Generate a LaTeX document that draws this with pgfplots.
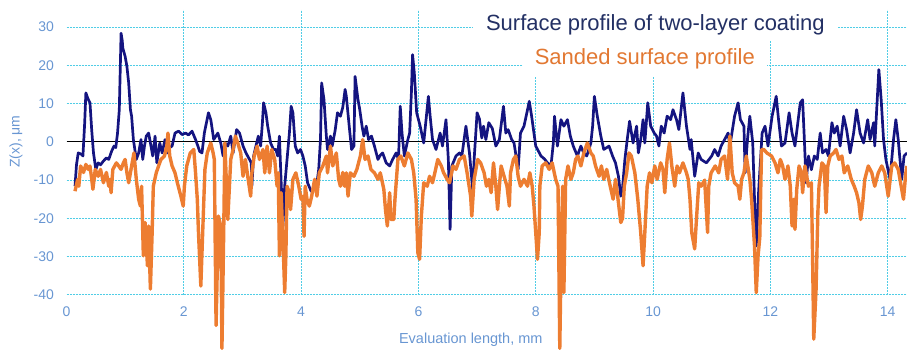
\documentclass[border=0pt]{standalone}
\usepackage{pgfplots}
\pgfplotsset{compat=1.18}
\usepackage{fontspec}
\setmainfont{Liberation Sans}
\definecolor{gridc}{RGB}{80,205,230}
\definecolor{tickc}{RGB}{104,150,210}
\definecolor{navyline}{RGB}{20,20,128}
\definecolor{orangeline}{RGB}{237,125,49}
\definecolor{navytext}{RGB}{35,48,100}
\definecolor{orangetext}{RGB}{226,120,50}
\begin{document}
\begin{tikzpicture}
\begin{axis}[
  scale only axis, width=840.5pt, height=285pt,
  xmin=0, xmax=14.33, ymin=-40, ymax=34.5,
  clip=false,
  axis line style={draw=none},
  major tick length=0pt,
  xtick={0,2,...,14}, ytick={-40,-30,...,30},
  xmajorgrids=false, ymajorgrids=true,
  major grid style={gridc, line width=1pt, dash pattern=on 2pt off 1pt},
  extra x ticks={2,4,...,14}, extra x tick labels={},
  extra x tick style={xmajorgrids=true},
  extra y ticks={0}, extra y tick labels={},
  extra y tick style={ymajorgrids=true, major grid style={black, line width=0.8pt, solid}},
  /pgf/number format/assume math mode=true,
  tick label style={font=\fontsize{14}{16}\selectfont, text=tickc},
  xticklabel style={yshift=-8pt},
  yticklabel style={xshift=-9pt},
  xlabel={Evaluation length, mm},
  xlabel style={at={(axis description cs:0.481,0)}, anchor=center, yshift=-45pt,
    font=\fontsize{14.5}{16}\selectfont, text=tickc},
  ylabel={Z(x), μm},
  ylabel style={at={(axis description cs:-0.0601,0.5375)}, anchor=center, rotate=0,
    font=\fontsize{14}{16}\selectfont, text=tickc},
]
\addplot[navyline, line width=2.7pt, line join=round] table {
0.145 -11.6
0.17 -6
0.20 -2.9
0.25 -3.2
0.28 -3.7
0.31 5
0.33 12.8
0.36 11.5
0.38 10.8
0.40 10.2
0.43 3
0.46 -2.9
0.50 -7.2
0.54 -5.5
0.58 -6
0.63 -5.0
0.68 -4.2
0.72 -4.6
0.77 -2.4
0.81 -1.1
0.84 -1.5
0.87 2.3
0.90 8.4
0.92 21.5
0.93 28.4
0.95 26.5
0.96 24.5
1.00 22.3
1.03 19.7
1.06 15.4
1.09 8.4
1.11 6.7
1.14 0.6
1.19 -4.6
1.23 -2.9
1.27 0.6
1.30 -4.6
1.33 -1
1.36 1.5
1.40 2.3
1.44 -1.1
1.47 -3.7
1.51 1.5
1.54 -5.5
1.59 -0.3
1.63 -2.9
1.68 0.6
1.72 -2.9
1.76 -1.5
1.80 -1.1
1.85 2.3
1.91 2.8
1.97 1.9
2.03 2.3
2.08 1.8
2.14 2.8
2.20 0.6
2.24 -1.1
2.27 -2.5
2.31 -2.9
2.35 2.3
2.42 7.6
2.46 5.8
2.51 0.6
2.58 2.3
2.63 -0.3
2.67 -3.7
2.70 -0.3
2.75 -1.1
2.80 1.5
2.84 -2.9
2.90 3.2
2.95 2.3
3.01 -1.1
3.06 -2.9
3.12 -4.6
3.15 -5.5
3.16 -11.6
3.19 -3.7
3.23 -1.1
3.27 1.5
3.31 -1.1
3.34 5.0
3.36 10.2
3.40 7.6
3.43 4.1
3.48 -0.3
3.53 -2.0
3.57 -2.0
3.60 -3.7
3.63 1.5
3.66 -10.7
3.69 -22
3.72 -11.6
3.76 -4.6
3.80 2.3
3.83 9.3
3.86 7.6
3.90 -1.1
3.94 -2.9
3.99 -2.0
4.03 -3.7
4.07 -6.3
4.11 -10.7
4.17 -12.9
4.23 -12.4
4.27 -10.7
4.30 -7.2
4.33 0.6
4.35 15.4
4.39 11
4.43 1.5
4.45 -2
4.50 1.5
4.53 -1.1
4.58 3
4.62 7.6
4.67 6.7
4.71 9
4.75 13.7
4.77 12
4.82 4.1
4.86 -2
4.90 -1.1
4.92 17.1
4.97 11
5.00 8.4
5.04 4
5.07 1.5
5.11 4.1
5.15 0.6
5.20 1.5
5.25 -1.1
5.31 -4.6
5.35 -3.5
5.39 -2.9
5.45 -5.5
5.51 -6.3
5.56 -4.6
5.62 -2.9
5.66 -4.6
5.69 9.3
5.72 2.3
5.76 -3.7
5.82 0.6
5.85 2.3
5.88 12.8
5.90 22.8
5.93 18
5.97 7.6
6.03 4.1
6.09 -0.3
6.17 11.9
6.20 6.7
6.24 0.6
6.30 -2
6.37 2.3
6.41 -1.1
6.47 5.8
6.51 -4.6
6.54 -22.9
6.57 -6.3
6.64 -3.7
6.70 -2.9
6.74 -3.7
6.81 4.1
6.87 -2.9
6.93 -13.3
6.95 -4.6
7.00 7.6
7.04 6
7.08 1
7.11 4.1
7.15 0.6
7.20 5
7.26 3.5
7.32 -1.1
7.38 0.6
7.45 9.3
7.49 2.3
7.53 3.2
7.59 0.6
7.63 -0.3
7.70 -7.2
7.74 2.3
7.80 4.1
7.86 8.4
7.89 10.6
7.93 6.7
8.00 -1.1
8.09 -3.7
8.15 -4.5
8.20 -5.5
8.26 -6.3
8.30 -0.3
8.32 6.7
8.37 -1.1
8.43 5.8
8.48 4.1
8.54 5.8
8.59 1.5
8.64 -1.1
8.71 -3.7
8.77 -1.1
8.82 -3
8.87 -3.7
8.94 -0.3
8.97 4.1
9.00 11.9
9.05 6.7
9.11 1.5
9.16 -2
9.25 -1.1
9.31 -3.7
9.36 -5.5
9.41 -9
9.45 -14.2
9.48 -12
9.52 -4.6
9.56 0.6
9.60 5.4
9.66 -0.3
9.72 4.1
9.75 -2.9
9.79 0.6
9.83 5.8
9.86 -0.3
9.91 10.2
9.96 4.1
10.02 2.3
10.06 1.5
10.10 -1.1
10.14 4.1
10.19 2.3
10.24 6.7
10.30 5.8
10.34 8.4
10.40 5.8
10.44 3.2
10.51 12.8
10.57 4.1
10.63 -2
10.65 0.6
10.71 -9
10.77 -2.9
10.82 -4.6
10.91 -5.5
11.00 -3.7
11.05 -2
11.11 -3.7
11.16 -1.1
11.22 0.6
11.28 2.3
11.31 -1.1
11.39 6.7
11.45 10.2
11.49 5.8
11.55 4.1
11.57 -8.1
11.61 0.6
11.65 6.7
11.70 -0.3
11.73 -15
11.76 -27.2
11.80 -13
11.86 2.3
11.91 4.1
11.96 -1.1
12.03 6.7
12.10 11.9
12.14 5.8
12.19 -1.1
12.25 -0.3
12.32 7.6
12.37 2.3
12.42 -1.1
12.51 10.2
12.55 11
12.58 0.6
12.61 -10.7
12.65 -3.7
12.70 -7.3
12.75 -3.7
12.80 -4.6
12.85 2.3
12.89 -2.9
12.95 -2
12.99 -3.7
13.05 5
13.09 2.3
13.14 4.1
13.19 -1.1
13.25 6.7
13.30 3.2
13.36 -2.9
13.42 2.3
13.47 8.4
13.53 2.3
13.59 -0.3
13.66 5.8
13.70 0.6
13.76 5
13.78 -1.1
13.85 18.9
13.89 11
13.93 0.6
13.97 -4.6
14.04 -9.8
14.10 0.6
14.14 5.8
14.18 0.6
14.24 -9.8
14.28 -3.7
14.33 -2.9
};
\addplot[orangeline, line width=3.4pt, line join=round] table {
0.145 -12.9
0.19 -9.8
0.21 -11.6
0.24 -6.3
0.29 -8
0.33 -5.9
0.37 -7.2
0.40 -6.3
0.43 -9.8
0.45 -12.4
0.49 -7.2
0.54 -9
0.58 -7.2
0.63 -10.7
0.68 -8
0.72 -11.6
0.74 -9.8
0.76 -13.3
0.79 -7.2
0.85 -5.5
0.89 -6.3
0.93 -7.2
0.97 -5.5
1.00 -4.6
1.03 -8.1
1.06 -10.7
1.11 -6.3
1.15 -2.9
1.19 -9.8
1.23 -15
1.26 -16.8
1.28 -11.6
1.31 -29.8
1.34 -21.1
1.38 -32.4
1.40 -22
1.43 -38.5
1.46 -23.7
1.48 -11.6
1.53 -8.1
1.57 -6.3
1.61 -4.6
1.67 -3.7
1.71 -1.1
1.73 2.3
1.76 -3.7
1.80 -6.3
1.85 -8.1
1.89 -10.7
1.95 -14.2
1.99 -16.8
2.01 -11.6
2.05 -6.3
2.11 -2.9
2.17 -2
2.20 -8.1
2.23 -15
2.25 -23.7
2.29 -37.7
2.33 -20
2.36 -7.2
2.40 -2.9
2.46 -0.3
2.50 -2.9
2.52 -4.6
2.55 -48
2.59 -19.4
2.63 -22
2.65 -54
2.68 -23.7
2.70 -0.3
2.75 -20.3
2.80 -4.6
2.84 -2
2.88 1.5
2.92 -0.3
2.97 -2.9
3.01 -9
3.05 -4.6
3.09 -9
3.14 -14.2
3.16 -8.1
3.20 -3.7
3.25 -1.1
3.29 -4.6
3.35 -2
3.38 -8.1
3.42 -1.1
3.46 -8.1
3.50 -2
3.55 -4.6
3.59 -11.6
3.61 -8.1
3.63 -29.8
3.66 -13.3
3.70 -30
3.72 -39.4
3.74 -29.8
3.76 -11.6
3.80 -13.3
3.82 -17.7
3.86 -9.8
3.91 -8.1
3.96 -11.6
4.00 -15
4.03 -14.2
4.05 -24.7
4.07 -11.6
4.10 -15
4.14 -16.8
4.18 -14.2
4.23 -9.8
4.27 -14.2
4.31 -8.1
4.37 -6.3
4.43 -3.7
4.45 -8.1
4.50 -1.1
4.54 -6.3
4.60 -2.9
4.64 -9.8
4.67 -11.6
4.71 -8
4.74 -11.6
4.77 -8.1
4.80 -14.2
4.84 -8.1
4.90 -9
4.95 -7.2
5.01 -3.7
5.05 0.6
5.09 -4.6
5.14 -3.7
5.19 -7.2
5.25 -8.1
5.31 -9.8
5.35 -8.1
5.41 -12.4
5.44 -18
5.47 -22
5.51 -13.3
5.53 -20.3
5.58 -20.3
5.60 -15
5.65 -4.6
5.70 -3.7
5.76 -6.3
5.82 -2.9
5.88 -4.6
5.92 -8.1
5.96 -15
5.99 -29
6.02 -30.7
6.05 -19.4
6.09 -10.7
6.15 -11.6
6.19 -9
6.24 -10.7
6.28 -8.1
6.33 -4.6
6.39 -6.3
6.43 -8.1
6.49 -9.8
6.53 -10.7
6.59 -6.3
6.64 -7.2
6.70 -4.6
6.78 -3.7
6.83 -8.1
6.89 -14.2
6.91 -19.4
6.95 -9.8
7.01 -4.6
7.06 -5.5
7.12 -8.1
7.16 -11.6
7.20 -9.8
7.24 -13.3
7.28 -5.5
7.32 -11.6
7.35 -17.7
7.38 -11.6
7.41 -6.3
7.46 -9
7.51 -11.6
7.55 -16.8
7.57 -8.1
7.62 -4.6
7.66 -3.7
7.70 -9
7.74 -11.6
7.80 -9.8
7.86 -11.6
7.90 -8.1
7.94 -11.6
7.97 -16.8
8.00 -23.7
8.03 -30.7
8.06 -23.7
8.07 -11.6
8.11 -6.3
8.17 -5.5
8.23 -7.2
8.28 -5.5
8.34 -9.8
8.38 -11.6
8.41 -54
8.44 -23.7
8.46 -11.6
8.48 -39.4
8.51 -9.8
8.55 -6.3
8.60 -9.8
8.64 -8.1
8.68 -4.6
8.72 -3.7
8.77 -6.3
8.82 -2.9
8.88 -0.3
8.94 -2.9
8.98 -3.7
9.02 -6.3
9.08 -9
9.12 -6.3
9.16 -9.8
9.21 -7.2
9.27 -11.6
9.32 -15
9.36 -9.8
9.39 -13.3
9.45 -21.1
9.48 -20
9.51 -11.6
9.55 -8.1
9.59 -2.9
9.63 -3.7
9.69 -8.1
9.74 -15
9.79 -23.7
9.83 -32.4
9.86 -23.7
9.90 -11.6
9.94 -8.1
9.98 -10.7
10.03 -6.3
10.07 -9.8
10.13 -5.5
10.17 -7.2
10.20 -13.3
10.24 -4.6
10.28 -0.3
10.32 -6.3
10.37 -11.6
10.41 -6.3
10.45 -8.1
10.51 -5.5
10.57 -8.1
10.60 -9.8
10.63 -15
10.66 -23.7
10.71 -28
10.74 -20.3
10.78 -10.7
10.82 -11.6
10.88 -10
10.93 -23.7
10.95 -11.6
10.99 -8.1
11.06 -6.3
11.12 -8.1
11.16 -4.6
11.22 -3.7
11.27 -9.8
11.29 -4.6
11.31 1.5
11.35 -8.1
11.39 -10.7
11.45 -11.6
11.48 -15
11.51 -9.8
11.55 -8.1
11.59 -3.7
11.65 -9.8
11.68 -15
11.73 -27.2
11.76 -39.4
11.79 -30
11.82 -25
11.85 -2
11.89 -2
11.94 -2.9
12.02 -3.7
12.08 -5.5
12.13 -8.1
12.17 -4.6
12.21 -6.3
12.25 -9.8
12.30 -6.3
12.34 -11.6
12.37 -22
12.40 -15
12.42 -22.9
12.45 -12.4
12.49 -6.3
12.53 -8.1
12.55 -13.3
12.59 -6.3
12.65 -11.6
12.70 -10.7
12.72 -30
12.74 -51.6
12.78 -38.5
12.81 -18.5
12.83 -11.6
12.88 -5.5
12.92 -6.3
12.95 -18.5
12.98 -6.3
13.02 -3.7
13.08 -2.9
13.12 -2
13.17 -4.6
13.22 -3.7
13.26 -8.1
13.32 -6.3
13.38 -9.8
13.43 -11.6
13.47 -13.3
13.51 -15.9
13.54 -20.3
13.57 -16.8
13.61 -9.8
13.67 -6.3
13.73 -8.1
13.78 -11.6
13.84 -8.1
13.90 -6.3
13.95 -8.1
14.01 -14.2
14.07 -6.3
14.12 -5.5
14.18 -7.2
14.27 -15
14.31 -8.1
14.33 -6.3
};
\node[fill=white, inner sep=0pt, minimum width=365pt, minimum height=32pt,
  text=navytext, font=\fontsize{22}{24}\selectfont] at (axis cs:10.04,30.55)
  {Surface profile of two-layer coating};
\node[fill=white, inner sep=0pt, minimum width=244pt, minimum height=36pt,
  text=orangetext, font=\fontsize{22}{24}\selectfont] at (axis cs:9.86,21.6)
  {Sanded surface profile};
\coordinate (BBsw) at (axis cs:-1.134,-54.3);
\coordinate (BBne) at (axis cs:14.33,37.08);
\end{axis}
\pgfresetboundingbox
\path[use as bounding box] (BBsw) rectangle (BBne);
\end{tikzpicture}
\end{document}
